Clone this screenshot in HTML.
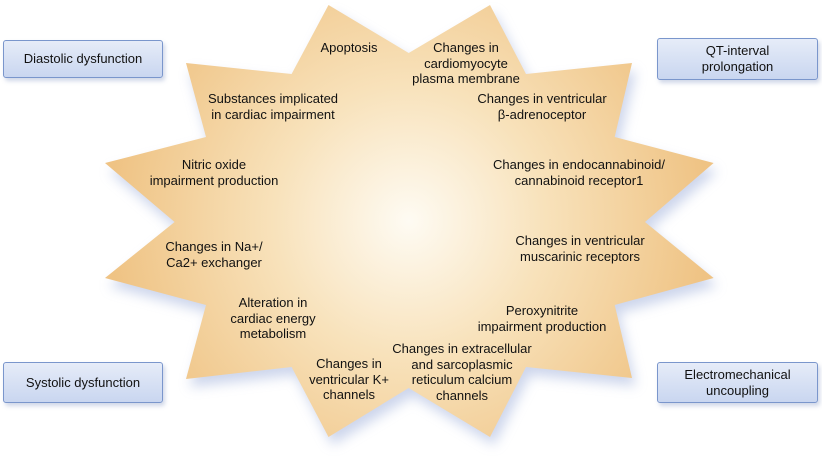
<!DOCTYPE html>
<html><head><style>
body{margin:0;width:822px;height:467px;background:#fff;font-family:"Liberation Sans",sans-serif;position:relative;overflow:hidden}
.b{position:absolute;box-sizing:border-box;border:1px solid #7a96cc;border-radius:3px;background:linear-gradient(#e6ecf8,#c9d6f0);box-shadow:2px 3px 4px rgba(120,140,190,.35);display:flex;align-items:center;justify-content:center;text-align:center;font-size:13px;line-height:16px;color:#111}
.t{position:absolute;font-size:13px;line-height:15.5px;text-align:center;color:#111;white-space:nowrap;transform:translateX(-50%)}
</style></head><body>
<svg width="822" height="467" style="position:absolute;left:0;top:0">
<defs>
<radialGradient id="g" cx="409" cy="221" r="300" gradientUnits="userSpaceOnUse">
<stop offset="0" stop-color="#fefbf3"/><stop offset="0.45" stop-color="#f8e2bb"/><stop offset="1" stop-color="#efc384"/></radialGradient>
<filter id="s" x="-20%" y="-20%" width="140%" height="140%"><feGaussianBlur stdDeviation="6"/></filter>
</defs>
<polygon transform="translate(4,8)" filter="url(#s)" fill="#b8c4e4" opacity="0.7" points="328.5,5 408.7,53 490,5 526,74 632,63 614.7,137 713.6,163 645,222 713.6,278 614.7,305 632,378 526,367 490,437 408.7,388 328.5,437 291.6,367 186,379 206,305 105,278 174.6,222 105,163 206,137 186,63 291.6,74"/>
<polygon fill="url(#g)" points="328.5,5 408.7,53 490,5 526,74 632,63 614.7,137 713.6,163 645,222 713.6,278 614.7,305 632,378 526,367 490,437 408.7,388 328.5,437 291.6,367 186,379 206,305 105,278 174.6,222 105,163 206,137 186,63 291.6,74"/>
</svg>
<div class="b" style="left:3px;top:40px;width:160px;height:38px">Diastolic dysfunction</div>
<div class="b" style="left:657px;top:38px;width:161px;height:42px">QT-interval<br>prolongation</div>
<div class="b" style="left:3px;top:362px;width:160px;height:41px">Systolic dysfunction</div>
<div class="b" style="left:657px;top:362px;width:161px;height:41px">Electromechanical<br>uncoupling</div>
<div class="t" style="left:349px;top:40px">Apoptosis</div>
<div class="t" style="left:466px;top:40px">Changes in<br>cardiomyocyte<br>plasma membrane</div>
<div class="t" style="left:273px;top:91px">Substances implicated<br>in cardiac impairment</div>
<div class="t" style="left:542px;top:91px">Changes in ventricular<br>β-adrenoceptor</div>
<div class="t" style="left:214px;top:157px">Nitric oxide<br>impairment production</div>
<div class="t" style="left:579px;top:157px">Changes in endocannabinoid/<br>cannabinoid receptor1</div>
<div class="t" style="left:214px;top:239px">Changes in Na+/<br>Ca2+ exchanger</div>
<div class="t" style="left:580px;top:233px">Changes in ventricular<br>muscarinic receptors</div>
<div class="t" style="left:273px;top:295px">Alteration in<br>cardiac energy<br>metabolism</div>
<div class="t" style="left:542px;top:303px">Peroxynitrite<br>impairment production</div>
<div class="t" style="left:349px;top:356px">Changes in<br>ventricular K+<br>channels</div>
<div class="t" style="left:462px;top:341px">Changes in extracellular<br>and sarcoplasmic<br>reticulum calcium<br>channels</div>
</body></html>
